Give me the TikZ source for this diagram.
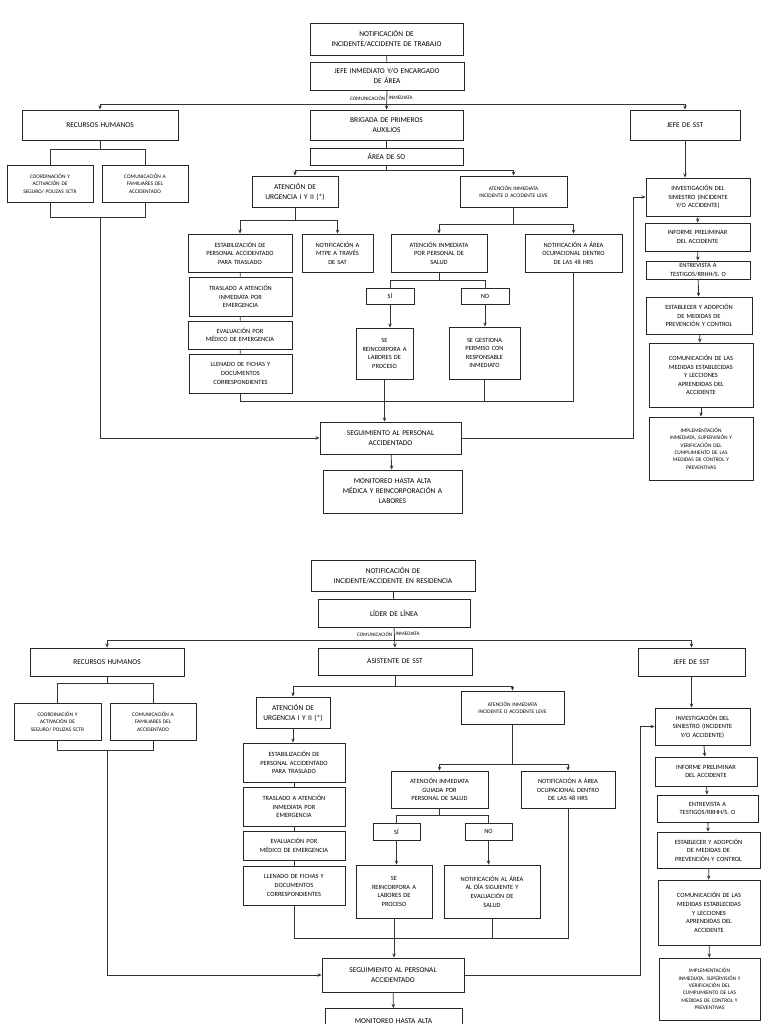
\documentclass[tikz,border=0pt]{standalone}
\usepackage{fontspec}
\setmainfont{Carlito}
\usetikzlibrary{arrows.meta}
\hyphenpenalty=10000
\exhyphenpenalty=10000
\tikzset{
 box/.style={draw=black!85,line width=0.9pt,align=center,inner sep=1pt,font=\fontsize{7.4}{10}\selectfont,fill=white},
 sm/.style={font=\fontsize{6.4}{8.6}\selectfont},
 xs/.style={font=\fontsize{5.4}{7.4}\selectfont},
 ln/.style={draw=black!80,line width=0.8pt},
 arr/.style={ln,-{Stealth[length=4pt,width=3.5pt]}},
 lab/.style={font=\fontsize{5.2}{6}\selectfont,inner sep=1.5pt}
}
\newcommand\bx[7][]{\pgfmathsetmacro\bw{#5-#3}\pgfmathsetmacro\bh{#6-#4}\pgfmathsetmacro\tw{#5-#3-8}%
 \node[box,minimum width=\bw pt,minimum height=\bh pt,text width=\tw pt,#1] (#2) at ({(#3+#5)/2},{(#4+#6)/2}) {#7};}
\begin{document}
\hyphenpenalty=10000
\exhyphenpenalty=10000
\begin{tikzpicture}[x=1pt,y=-1pt]
\fill[white] (0,0) rectangle (768,1024);
\useasboundingbox (0,0) rectangle (768,1024);
\clip (0,0) rectangle (768,1024);
% ================= TOP =================
\bx{n1}{310}{23}{463}{55}{NOTIFICACIÓN DE\\INCIDENTE/ACCIDENTE DE TRABAJO}
\bx{j1}{310}{62}{464}{90}{JEFE INMEDIATO Y/O ENCARGADO\\DE ÁREA}
\bx{rh}{22}{110}{178}{140}{RECURSOS HUMANOS}
\bx{bpa}{310}{110}{463}{140}{BRIGADA DE PRIMEROS\\AUXILIOS}
\bx{jsst}{630}{110}{740}{140}{JEFE DE SST}
\bx{aso}{310}{148}{463}{165}{ÁREA DE SO}
\bx[xs]{coord}{7}{165}{93}{202}{COORDINACIÓN Y\\ACTIVACIÓN DE\\SEGURO/ POLIZAS SCTR}
\bx[xs]{coma}{102}{165}{188}{202}{COMUNICACIÓN A\\FAMILIARES DEL\\ACCIDENTADO}
\bx{urg}{252}{176}{338}{207}{ATENCIÓN DE\\URGENCIA I Y II (*)}
\bx[xs]{leve}{460}{176}{567}{207}{ATENCIÓN INMEDIATA\\INCIDENTE O ACCIDENTE LEVE}
\bx[sm]{estab}{188}{234}{292}{272}{ESTABILIZACIÓN DE\\PERSONAL ACCIDENTADO\\PARA TRASLADO}
\bx[sm]{mtpe}{302}{234}{373}{272}{NOTIFICACIÓN A\\MTPE A TRAVÉS\\DE SAT}
\bx[sm]{tras}{189}{277}{292}{316}{TRASLADO A ATENCIÓN\\INMEDIATA POR\\EMERGENCIA}
\bx[sm]{eval}{188}{321}{292}{349}{EVALUACIÓN POR\\MÉDICO DE EMERGENCIA}
\bx[sm]{llen}{189}{354}{292}{393}{LLENADO DE FICHAS Y\\DOCUMENTOS\\CORRESPONDIENTES}
\bx[sm]{api}{391}{234}{487}{272}{ATENCIÓN INMEDIATA\\POR PERSONAL DE\\SALUD}
\bx[sm]{noa}{525}{234}{622}{272}{NOTIFICACIÓN A ÁREA\\OCUPACIONAL DENTRO\\DE LAS 48 HRS}
\bx[sm]{si}{366}{288}{414}{304}{SÍ}
\bx[sm]{no}{461}{288}{509}{304}{NO}
\bx[sm]{se}{356}{328}{413}{379}{SE\\REINCORPORA A\\LABORES DE\\PROCESO}
\bx[sm]{ges}{449}{327}{520}{379}{SE GESTIONA\\PERMISO CON\\RESPONSABLE\\INMEDIATO}
\bx{seg}{320}{422}{461}{454}{SEGUIMIENTO AL PERSONAL\\ACCIDENTADO}
\bx{mon}{323}{470}{462}{513}{MONITOREO HASTA ALTA\\MÉDICA Y REINCORPORACIÓN A\\LABORES}
\bx[sm]{inv}{646}{178}{750}{216}{INVESTIGACIÓN DEL\\SINIESTRO (INCIDENTE\\Y/O ACCIDENTE)}
\bx[sm]{inf}{645}{223}{750}{251}{INFORME PRELIMINAR\\DEL ACCIDENTE}
\bx[sm]{ent}{646}{261}{750}{279}{ENTREVISTA A\\TESTIGOS/RRHH/S. O}
\bx[sm]{est}{646}{297}{752}{334}{ESTABLECER Y ADOPCIÓN\\DE MEDIDAS DE\\PREVENCIÓN Y CONTROL}
\bx[sm]{com}{649}{343}{753}{407}{COMUNICACIÓN DE LAS\\MEDIDAS ESTABLECIDAS\\Y LECCIONES\\APRENDIDAS DEL\\ACCIDENTE}
\bx[xs]{imp}{649}{417}{753}{480}{IMPLEMENTACIÓN\\INMEDIATA, SUPERVISIÓN Y\\VERIFICACIÓN DEL\\CUMPLIMIENTO DE LAS\\MEDIDAS DE CONTROL Y\\PREVENTIVAS}
\node[lab,anchor=east] (l1) at (387,98) {COMUNICACIÓN};
\node[lab,anchor=west] (l2) at (387,98) {INMEDIATA};
% connectors top
\draw[ln] (n1) -- (j1);
\draw[arr] (j1.south) -- (bpa.north);
\coordinate (c1) at (387,104);
\draw[arr] (c1) -| (rh.north);
\draw[arr] (c1) -| (jsst.north);
\draw[ln] (bpa) -- (aso);
\draw[ln] (aso.south) -- ++(0,5) coordinate (c2);
\draw[arr] (c2) -| (urg.north);
\draw[arr] (c2) -| (leve.north);
\draw[ln] (rh.south) -- ++(0,9) coordinate (c3);
\draw[ln] (c3) -| (coord.north);
\draw[ln] (c3) -| (coma.north);
\draw[ln] (coord.south) -- ++(0,15) -| (coma.south);
\coordinate (c4) at (100,217);
\draw[arr] (c4) |- (seg.west);
\draw[ln] (urg.south) -- ++(0,13) coordinate (c5);
\draw[arr] (c5) -| (estab.north);
\draw[arr] (c5) -| (mtpe.north);
\draw[ln] (estab) -- (tras) -- (eval) -- (llen);
\draw[ln] (leve.south) -- ++(0,17) coordinate (c6);
\draw[arr] (c6) -| (api.north);
\draw[arr] (c6) -| (noa.north);
\draw[ln] (api.south) -- ++(0,8) coordinate (c7);
\draw[ln] (c7) -| (si.north);
\draw[ln] (c7) -| (no.north);
\draw[arr] (si.south) -- (si.south |- se.north);
\draw[arr] (no.south) -- (no.south |- ges.north);
\draw[ln] (llen.south) -- ++(0,8) coordinate (c8) -| (noa.south);
\draw[ln] (ges.south) -- (ges.south |- c8);
\draw[arr] (se.south) -- (se.south |- seg.north);
\draw[arr] (seg) -- (mon);
\coordinate (c9) at (633,0);
\draw[arr] (seg.east) -| (c9 |- inv.west) -- (inv.west);
\draw[arr] (jsst) -- (jsst |- inv.north);
\draw[arr] (inv) -- (inf);
\draw[arr] (inf) -- (ent);
\draw[arr] (ent) -- (est);
\draw[arr] (est) -- (com);
\draw[arr] (com) -- (imp);
% ================= BOTTOM =================
\bx{n2}{311}{560}{475}{591}{NOTIFICACIÓN DE\\INCIDENTE/ACCIDENTE EN RESIDENCIA}
\bx{lid}{318}{599}{470}{627}{LÍDER DE LÍNEA}
\bx{rh2}{30}{648}{184}{676}{RECURSOS HUMANOS}
\bx{asst}{318}{648}{472}{675}{ASISTENTE DE SST}
\bx{jsst2}{638}{648}{745}{676}{JEFE DE SST}
\bx[xs]{coord2}{14}{703}{101}{740}{COORDINACIÓN Y\\ACTIVACIÓN DE\\SEGURO/ POLIZAS SCTR}
\bx[xs]{coma2}{110}{703}{196}{740}{COMUNICACIÓN A\\FAMILIARES DEL\\ACCIDENTADO}
\bx{urg2}{256}{697}{330}{728}{ATENCIÓN DE\\URGENCIA I Y II (*)}
\bx[xs]{leve2}{461}{691}{564}{724}{ATENCIÓN INMEDIATA\\INCIDENTE O ACCIDENTE LEVE}
\bx[sm]{estab2}{243}{743}{345}{782}{ESTABILIZACIÓN DE\\PERSONAL ACCIDENTADO\\PARA TRASLADO}
\bx[sm]{tras2}{243}{787}{345}{826}{TRASLADO A ATENCIÓN\\INMEDIATA POR\\EMERGENCIA}
\bx[sm]{eval2}{243}{831}{345}{860}{EVALUACIÓN POR\\MÉDICO DE EMERGENCIA}
\bx[sm]{llen2}{243}{866}{345}{905}{LLENADO DE FICHAS Y\\DOCUMENTOS\\CORRESPONDIENTES}
\bx[sm]{api2}{391}{771}{488}{808}{ATENCIÓN INMEDIATA\\GUIADA POR\\PERSONAL DE SALUD}
\bx[sm]{noa2}{521}{771}{615}{808}{NOTIFICACIÓN A ÁREA\\OCUPACIONAL DENTRO\\DE LAS 48 HRS}
\bx[sm]{si2}{373}{823}{420}{840}{SÍ}
\bx[sm]{no2}{465}{823}{512}{840}{NO}
\bx[sm]{se2}{356}{865}{432}{918}{SE\\REINCORPORA A\\LABORES DE\\PROCESO}
\bx[sm]{nd2}{444}{865}{540}{918}{NOTIFICACIÓN AL ÁREA\\AL DÍA SIGUIENTE Y\\EVALUACIÓN DE\\SALUD}
\bx{seg2}{322}{958}{464}{992}{SEGUIMIENTO AL PERSONAL\\ACCIDENTADO}
\bx[anchor=north,minimum height=25pt]{mon2}{325}{1008}{462}{1008}{MONITOREO HASTA ALTA}
\bx[sm]{inv2}{655}{708}{750}{745}{INVESTIGACIÓN DEL\\SINIESTRO (INCIDENTE\\Y/O ACCIDENTE)}
\bx[sm]{inf2}{655}{757}{757}{786}{INFORME PRELIMINAR\\DEL ACCIDENTE}
\bx[sm]{ent2}{657}{795}{758}{822}{ENTREVISTA A\\TESTIGOS/RRHH/S. O}
\bx[sm]{est2}{657}{832}{760}{868}{ESTABLECER Y ADOPCIÓN\\DE MEDIDAS DE\\PREVENCIÓN Y CONTROL}
\bx[sm]{com2}{658}{880}{760}{945}{COMUNICACIÓN DE LAS\\MEDIDAS ESTABLECIDAS\\Y LECCIONES\\APRENDIDAS DEL\\ACCIDENTE}
\bx[xs]{imp2}{659}{958}{760}{1020}{IMPLEMENTACIÓN\\INMEDIATA, SUPERVISIÓN Y\\VERIFICACIÓN DEL\\CUMPLIMIENTO DE LAS\\MEDIDAS DE CONTROL Y\\PREVENTIVAS}
\node[lab,anchor=east] (l3) at (394,634) {COMUNICACIÓN};
\node[lab,anchor=west] (l4) at (394,634) {INMEDIATA};
% connectors bottom
\draw[ln] (n2) -- (lid);
\draw[arr] (lid.south) -- (asst.north);
\coordinate (d1) at (394,640);
\draw[arr] (d1) -| (rh2.north);
\draw[arr] (d1) -| (jsst2.north);
\draw[ln] (asst.south) -- ++(0,11) coordinate (d2);
\draw[arr] (d2) -| (urg2.north);
\draw[arr] (d2) -| (leve2.north);
\draw[ln] (rh2.south) -- ++(0,7) coordinate (d3);
\draw[ln] (d3) -| (coord2.north);
\draw[ln] (d3) -| (coma2.north);
\draw[ln] (coord2.south) -- ++(0,10) -| (coma2.south);
\coordinate (d4) at (107,750);
\draw[arr] (d4) |- (seg2.west);
\draw[arr] (urg2.south) -- (urg2.south |- estab2.north);
\draw[ln] (estab2) -- (tras2) -- (eval2) -- (llen2);
\draw[ln] (leve2.south) -- ++(0,40) coordinate (d6);
\draw[arr] (d6) -| (api2.north);
\draw[arr] (d6) -| (noa2.north);
\draw[ln] (api2.south) -- ++(0,7) coordinate (d7);
\draw[ln] (d7) -| (si2.north);
\draw[ln] (d7) -| (no2.north);
\draw[arr] (si2.south) -- (si2.south |- se2.north);
\draw[arr] (no2.south) -- (no2.south |- nd2.north);
\draw[ln] (llen2.south) -- ++(0,33) coordinate (d8) -| (noa2.south);
\draw[ln] (nd2.south) -- (nd2.south |- d8);
\draw[arr] (se2.south) -- (se2.south |- seg2.north);
\draw[arr] (seg2) -- (mon2);
\coordinate (d9) at (640,0);
\draw[arr] (seg2.east) -| (d9 |- inv2.west) -- (inv2.west);
\draw[arr] (jsst2) -- (jsst2 |- inv2.north);
\draw[arr] (inv2) -- (inf2);
\draw[arr] (inf2) -- (ent2);
\draw[arr] (ent2) -- (est2);
\draw[arr] (est2) -- (com2);
\draw[arr] (com2) -- (imp2);
\end{tikzpicture}
\end{document}
